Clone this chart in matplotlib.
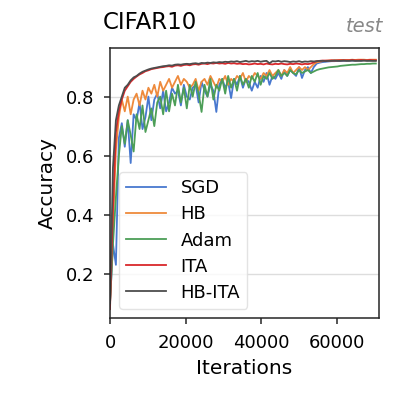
import numpy as np
import matplotlib
matplotlib.use('Agg')
import matplotlib.pyplot as plt

# evaluation every 2 epochs (782 iterations)
iters = np.arange(0, 71000, 782)

sgd = [0.10, 0.30, 0.23, 0.66, 0.71, 0.63, 0.72, 0.575, 0.74, 0.72,
       0.78, 0.69, 0.73, 0.80, 0.72, 0.79, 0.81, 0.76, 0.82, 0.75,
       0.78, 0.83, 0.81, 0.82, 0.77, 0.84, 0.80, 0.79, 0.83, 0.84,
       0.78, 0.85, 0.82, 0.80, 0.84, 0.82, 0.748, 0.84, 0.86, 0.83,
       0.85, 0.795, 0.86, 0.84, 0.87, 0.83, 0.86, 0.85, 0.82, 0.85,
       0.83, 0.87, 0.85, 0.88, 0.84, 0.87, 0.86, 0.88, 0.86, 0.89,
       0.87, 0.89, 0.88, 0.87, 0.90, 0.863, 0.89, 0.90, 0.88, 0.90,
       0.912, 0.915, 0.917, 0.918, 0.919, 0.920, 0.920, 0.921, 0.921, 0.921,
       0.922, 0.922, 0.922, 0.922, 0.923, 0.922, 0.923, 0.923, 0.923, 0.923,
       0.923]

hb = [0.10, 0.36, 0.62, 0.73, 0.79, 0.75, 0.80, 0.74, 0.79, 0.81,
      0.77, 0.82, 0.79, 0.83, 0.81, 0.84, 0.80, 0.85, 0.82, 0.84,
      0.86, 0.83, 0.85, 0.87, 0.84, 0.86, 0.85, 0.83, 0.84, 0.86,
      0.82, 0.85, 0.86, 0.84, 0.87, 0.85, 0.83, 0.86, 0.85, 0.87,
      0.84, 0.86, 0.85, 0.87, 0.86, 0.88, 0.85, 0.87, 0.86, 0.88,
      0.87, 0.86, 0.88, 0.87, 0.89, 0.87, 0.88, 0.89, 0.87, 0.89,
      0.88, 0.90, 0.88, 0.89, 0.90, 0.89, 0.90, 0.89, 0.90, 0.91,
      0.916, 0.918, 0.920, 0.921, 0.922, 0.922, 0.923, 0.923, 0.924, 0.924,
      0.924, 0.924, 0.925, 0.924, 0.925, 0.925, 0.925, 0.924, 0.925, 0.925,
      0.925]

adam = [0.10, 0.30, 0.46, 0.60, 0.70, 0.64, 0.72, 0.67, 0.614, 0.74,
        0.69, 0.77, 0.68, 0.72, 0.76, 0.70, 0.78, 0.80, 0.74, 0.82,
        0.75, 0.81, 0.77, 0.84, 0.78, 0.83, 0.76, 0.84, 0.80, 0.85,
        0.81, 0.748, 0.84, 0.80, 0.86, 0.79, 0.84, 0.82, 0.86, 0.81,
        0.87, 0.83, 0.86, 0.82, 0.87, 0.84, 0.86, 0.83, 0.87, 0.85,
        0.88, 0.84, 0.87, 0.86, 0.88, 0.86, 0.87, 0.89, 0.87, 0.88,
        0.87, 0.89, 0.88, 0.875, 0.89, 0.88, 0.885, 0.89, 0.88, 0.885,
        0.890, 0.893, 0.895, 0.897, 0.899, 0.900, 0.901, 0.902, 0.904, 0.905,
        0.906, 0.907, 0.908, 0.908, 0.909, 0.910, 0.910, 0.911, 0.911, 0.912,
        0.912]

ita = [0.08, 0.42, 0.68, 0.75, 0.79, 0.82, 0.835, 0.85, 0.86, 0.868,
       0.875, 0.88, 0.886, 0.889, 0.893, 0.895, 0.897, 0.899, 0.900, 0.902,
       0.903, 0.901, 0.905, 0.906, 0.904, 0.907, 0.908, 0.906, 0.909, 0.910,
       0.908, 0.911, 0.912, 0.910, 0.913, 0.912, 0.914, 0.912, 0.913, 0.911,
       0.914, 0.912, 0.913, 0.911, 0.912, 0.910, 0.911, 0.909, 0.910, 0.912,
       0.910, 0.911, 0.909, 0.912, 0.910, 0.909, 0.911, 0.910, 0.912, 0.910,
       0.909, 0.911, 0.910, 0.912, 0.911, 0.909, 0.911, 0.910, 0.912, 0.916,
       0.920, 0.921, 0.922, 0.922, 0.922, 0.923, 0.922, 0.923, 0.923, 0.923,
       0.923, 0.923, 0.924, 0.923, 0.923, 0.924, 0.923, 0.923, 0.924, 0.923,
       0.923]

hb_ita = [0.10, 0.56, 0.72, 0.77, 0.80, 0.83, 0.84, 0.855, 0.865, 0.87,
          0.878, 0.884, 0.888, 0.892, 0.895, 0.897, 0.899, 0.901, 0.903, 0.904,
          0.906, 0.905, 0.908, 0.909, 0.908, 0.910, 0.911, 0.910, 0.912, 0.913,
          0.911, 0.914, 0.913, 0.915, 0.914, 0.916, 0.915, 0.917, 0.916, 0.918,
          0.917, 0.919, 0.918, 0.920, 0.917, 0.919, 0.921, 0.918, 0.920, 0.919,
          0.921, 0.918, 0.920, 0.921, 0.913, 0.920, 0.919, 0.921, 0.918, 0.920,
          0.919, 0.917, 0.919, 0.918, 0.920, 0.917, 0.919, 0.918, 0.920, 0.919,
          0.920, 0.921, 0.921, 0.920, 0.921, 0.921, 0.922, 0.921, 0.921, 0.922,
          0.921, 0.921, 0.922, 0.921, 0.921, 0.921, 0.922, 0.921, 0.921, 0.921,
          0.921]

labels = ['SGD', 'HB', 'Adam', 'ITA', 'HB-ITA']
colors = ['#4878cf', '#ee8a3c', '#4c9e57', '#d9282b', '#4d4d4d']

fig = plt.figure(figsize=(3.99, 3.99), dpi=100)
ax = fig.add_axes([0.2757, 0.203, 0.674, 0.677])

for ys, lab, c in zip([sgd, hb, adam, ita, hb_ita], labels, colors):
    ax.plot(iters, ys, color=c, lw=1.3, label=lab)

ax.set_xlim(0, 71200)
ax.set_ylim(0.05, 0.965)
ax.set_yticks([0.2, 0.4, 0.6, 0.8])
ax.set_xticks([0, 20000, 40000, 60000])
ax.grid(axis='y', color='#dddddd', lw=1.0)
ax.set_axisbelow(True)
for s in ax.spines.values():
    s.set_color('#262626')
    s.set_linewidth(1.1)
ax.tick_params(labelsize=13, length=4.5, width=1.1, color='#262626', pad=7)

ax.set_xlabel('Iterations', fontsize=14.5, labelpad=5)
ax.set_ylabel('Accuracy', fontsize=14.5, labelpad=6)

ax.legend(loc='lower left', fontsize=13, labelspacing=0.45, handlelength=2.2,
          edgecolor='#dddddd', fancybox=True)

fig.text(0.258, 0.927, 'CIFAR10', fontsize=16.5)
fig.text(0.96, 0.92, 'test', fontsize=14, style='italic', color='#888888', ha='right')

fig.savefig('out.png', dpi=100)
